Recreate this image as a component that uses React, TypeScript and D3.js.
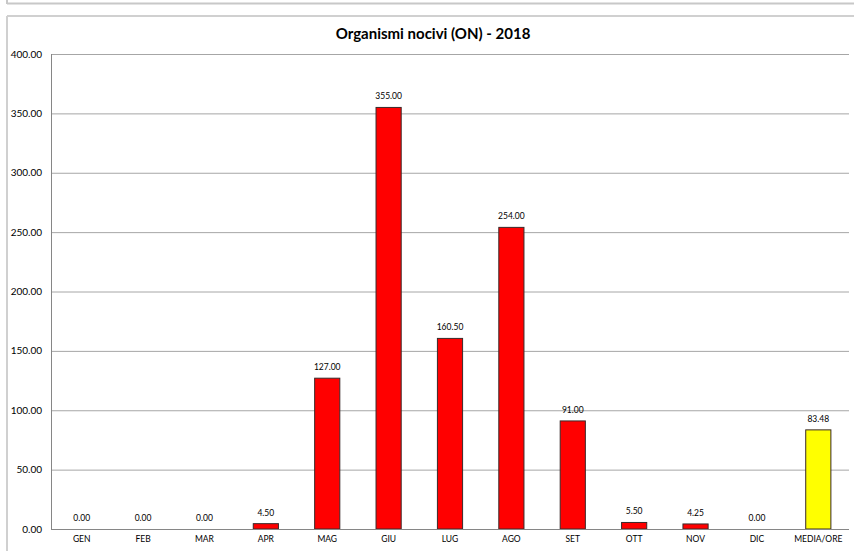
import React from "react";
import * as d3 from "d3";

const categories = ["GEN", "FEB", "MAR", "APR", "MAG", "GIU", "LUG", "AGO", "SET", "OTT", "NOV", "DIC", "MEDIA/ORE"];
const values = [0, 0, 0, 4.5, 127, 355, 160.5, 254, 91, 5.5, 4.25, 0, 83.48];
const yTicks = [0, 50, 100, 150, 200, 250, 300, 350, 400];
const title = "Organismi nocivi (ON) - 2018";

const W = 854;
const H = 551;
const left = 51;
const right = 849;
const top = 54;
const bottom = 529;
const font = "Lato, 'Open Sans', sans-serif";

export default function App() {
  const x = d3.scaleBand<string>().domain(categories).range([left, right]).paddingInner(0.59).paddingOuter(0.295);
  const y = d3.scaleLinear().domain([0, 400]).range([bottom, top]);
  const fmt = d3.format(".2f");

  return (
    <svg width={W} height={H} style={{ position: "absolute", left: 0, top: 0 }}>
      <rect x={0} y={0} width={W} height={H} fill="#fff" />
      {/* upper cell border */}
      <line x1={7} x2={W} y1={3.5} y2={3.5} stroke="#c8c8c8" strokeWidth={2} />
      <line x1={7} x2={7} y1={0} y2={4} stroke="#c8c8c8" strokeWidth={2} />
      {/* chart frame */}
      <line x1={7} x2={W} y1={16} y2={16} stroke="#d0d0d0" strokeWidth={2} />
      <line x1={7} x2={7} y1={16} y2={H} stroke="#d0d0d0" strokeWidth={2} />

      <text x={433} y={39} textAnchor="middle" fontFamily={font} fontWeight="bold" fontSize={15} fill="#000">
        {title}
      </text>

      {yTicks.map((t) => (
        <g key={t}>
          {t > 0 && <line x1={left} x2={right} y1={y(t) + 0.5} y2={y(t) + 0.5} stroke="#a6a6a6" strokeWidth={1} />}
          <text x={42} y={y(t)} dy="0.35em" textAnchor="end" fontFamily={font} fontSize={10} fill="#000">
            {fmt(t)}
          </text>
        </g>
      ))}

      {categories.map((c, i) => {
        const v = values[i];
        const last = i === categories.length - 1;
        return (
          <g key={c}>
            {v > 0 && (
              <rect
                x={x(c)!}
                y={y(v)}
                width={x.bandwidth()}
                height={bottom - y(v)}
                fill={last ? "#ffff00" : "#ff0000"}
                stroke="#3a2a2a"
                strokeWidth={1}
              />
            )}
            <text
              x={x(c)! + x.bandwidth() / 2}
              y={y(v) - 8}
              textAnchor="middle"
              fontFamily={font}
              fontSize={8.5}
              fill="#000"
            >
              {fmt(v)}
            </text>
            <text
              x={x(c)! + x.bandwidth() / 2}
              y={542}
              textAnchor="middle"
              fontFamily={font}
              fontSize={8.5}
              fill="#000"
            >
              {c}
            </text>
          </g>
        );
      })}

      <line x1={left + 0.5} x2={left + 0.5} y1={top} y2={bottom} stroke="#868686" strokeWidth={1} />
      <line x1={left} x2={right} y1={bottom + 0.5} y2={bottom + 0.5} stroke="#868686" strokeWidth={1} />
    </svg>
  );
}
